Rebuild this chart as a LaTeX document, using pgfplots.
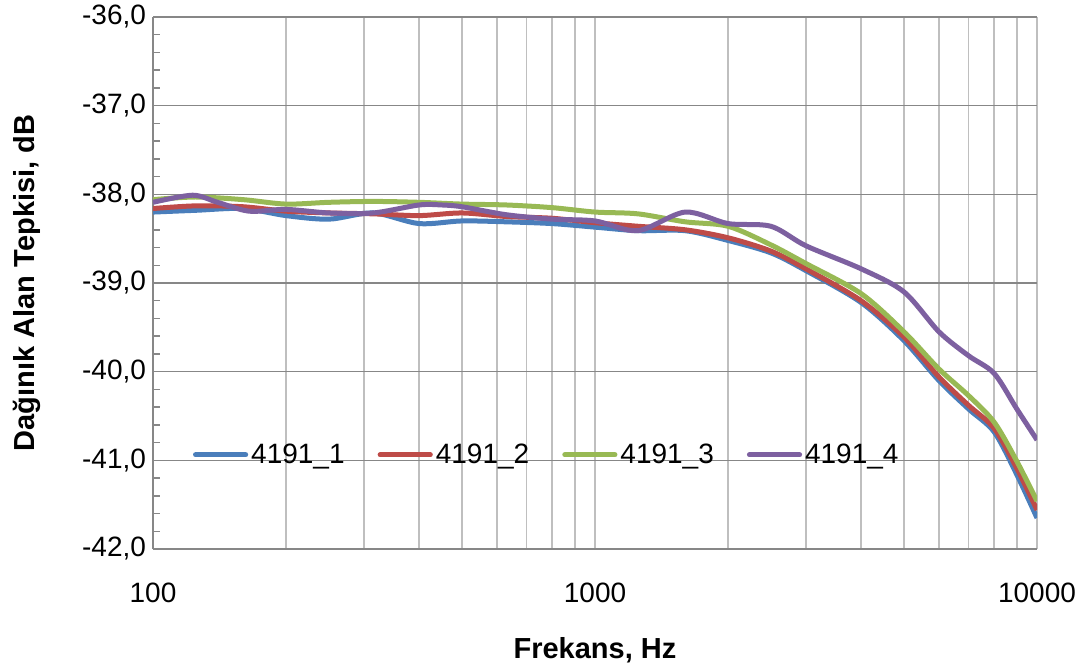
\documentclass[border=0pt]{standalone}
\usepackage{pgfplots}
\pgfplotsset{compat=1.18}
\usepackage{fontspec}
\setmainfont{Liberation Sans}
\definecolor{cblue}{HTML}{4A7EBB}
\definecolor{cred}{HTML}{BE4B48}
\definecolor{cgreen}{HTML}{98B954}
\definecolor{cpurple}{HTML}{7D60A0}
\definecolor{gridlight}{HTML}{BFBFBF}
\definecolor{griddark}{HTML}{878787}
\begin{document}
\begin{tikzpicture}
\begin{axis}[
  at={(0,0)}, anchor=south west,
  scale only axis, width=442pt, height=266pt,
  xmode=log, log basis x=10,
  xmin=100, xmax=10000, ymin=-42, ymax=-36,
  xtick={100,1000,10000}, xticklabels={100,1000,10000},
  minor xtick={200,300,400,500,600,700,800,900,2000,3000,4000,5000,6000,7000,8000,9000},
  ytick={-42,-41,-40,-39,-38,-37},
  yticklabels={{-42,0},{-41,0},{-40,0},{-39,0},{-38,0},{-37,0}},
  extra y ticks={-36}, extra y tick labels={-36{,}0},
  extra y tick style={major grid style={color=gridlight, line width=0.75pt}},
  minor ytick={-41.8,-41.6,-41.4,-41.2,-40.8,-40.6,-40.4,-40.2,-39.8,-39.6,-39.4,-39.2,-38.8,-38.6,-38.4,-38.2,-37.8,-37.6,-37.4,-37.2,-36.8,-36.6,-36.4,-36.2},
  xmajorgrids, xminorgrids, ymajorgrids,
  major x grid style={color=gridlight, line width=0.8pt},
  minor x grid style={color=gridlight, line width=0.8pt},
  major y grid style={color=griddark, line width=0.8pt},
  axis x line*=bottom, axis y line*=left,
  axis line style={color=griddark, line width=0.8pt, -},
  tick align=inside,
  xtick style={/pgfplots/major tick length=0pt, /pgfplots/minor tick length=0pt},
  ytick style={color=griddark, line width=0.75pt},
  major tick length=3.5pt, minor tick length=3.5pt,
  every tick label/.append style={font=\fontsize{14}{17}\selectfont},
  xticklabel style={yshift=-13.5pt},
  xlabel={\textbf{Frekans, Hz}},
  ylabel={\textbf{Dağınık Alan Tepkisi, dB}},
  xlabel style={font=\fontsize{14.5}{17}\selectfont, at={(axis description cs:0.5,0)}, anchor=center, yshift=-50.5pt},
  ylabel style={font=\fontsize{14.5}{17}\selectfont, at={(axis description cs:-0.1425,0.5)}, anchor=center},
  legend columns=4,
  legend style={at={(axis description cs:0.446,0.177)}, anchor=center, draw=none, fill=none,
    font=\fontsize{14}{17}\selectfont, nodes={inner xsep=1.5pt},
    /tikz/every even column/.append style={column sep=15pt}},
  legend image code/.code={\draw[#1, line width=2.6pt, line cap=round] (0pt,0pt) -- (25pt,0pt);},
  every axis plot/.append style={line width=2.5pt, smooth, no markers},
]
\addplot[cblue] coordinates {(100,-38.20) (125,-38.18) (160,-38.16) (200,-38.24) (250,-38.28) (315,-38.21) (400,-38.33) (500,-38.30) (630,-38.31) (800,-38.33) (1000,-38.37) (1250,-38.41) (1600,-38.41) (2000,-38.52) (2500,-38.66) (3000,-38.86) (4000,-39.22) (5000,-39.65) (6000,-40.10) (7000,-40.42) (8000,-40.68) (9000,-41.16) (10000,-41.65)};
\addlegendentry{4191\_1}
\addplot[cred] coordinates {(100,-38.16) (125,-38.13) (160,-38.14) (200,-38.19) (250,-38.21) (315,-38.22) (400,-38.24) (500,-38.21) (630,-38.25) (800,-38.27) (1000,-38.32) (1250,-38.36) (1600,-38.40) (2000,-38.49) (2500,-38.64) (3000,-38.84) (4000,-39.20) (5000,-39.61) (6000,-40.06) (7000,-40.38) (8000,-40.64) (9000,-41.09) (10000,-41.56)};
\addlegendentry{4191\_2}
\addplot[cgreen] coordinates {(100,-38.06) (125,-38.03) (160,-38.06) (200,-38.11) (250,-38.09) (315,-38.08) (400,-38.09) (500,-38.11) (630,-38.12) (800,-38.15) (1000,-38.20) (1250,-38.22) (1600,-38.31) (2000,-38.36) (2500,-38.57) (3000,-38.78) (4000,-39.12) (5000,-39.55) (6000,-39.97) (7000,-40.27) (8000,-40.57) (9000,-41.01) (10000,-41.46)};
\addlegendentry{4191\_3}
\addplot[cpurple] coordinates {(100,-38.09) (123,-38.01) (140,-38.09) (165,-38.19) (200,-38.17) (250,-38.21) (315,-38.21) (400,-38.12) (450,-38.12) (500,-38.14) (630,-38.23) (800,-38.28) (1000,-38.30) (1250,-38.41) (1600,-38.20) (2000,-38.33) (2500,-38.36) (3000,-38.58) (4000,-38.84) (5000,-39.10) (6000,-39.55) (7000,-39.82) (8000,-40.02) (9000,-40.42) (10000,-40.77)};
\addlegendentry{4191\_4}
\end{axis}
\pgfresetboundingbox
\path (-76.5pt,-60pt) rectangle (466pt,274.5pt);
\end{tikzpicture}
\end{document}
